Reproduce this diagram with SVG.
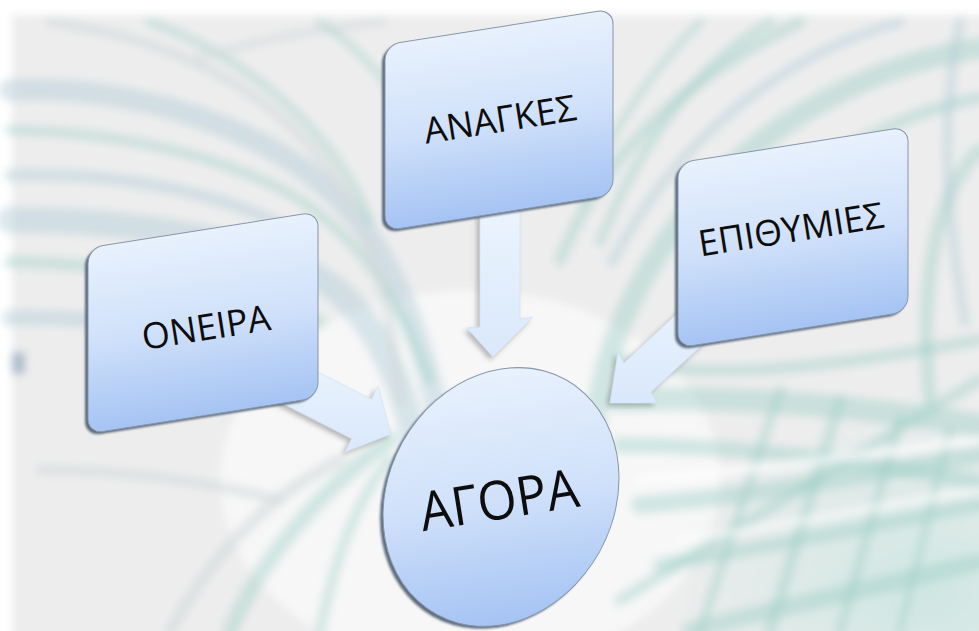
<svg xmlns="http://www.w3.org/2000/svg" width="979" height="631" viewBox="0 0 979 631">
<defs>
  <linearGradient id="gBox" x1="0" y1="0" x2="0" y2="1">
    <stop offset="0" stop-color="#e8f1fd"/>
    <stop offset="0.5" stop-color="#d0e1fa"/>
    <stop offset="1" stop-color="#a5c3f3"/>
  </linearGradient>
  <linearGradient id="gArrow" x1="0" y1="0" x2="0" y2="1">
    <stop offset="0" stop-color="#edf5fe"/>
    <stop offset="1" stop-color="#d9e8fb"/>
  </linearGradient>
  <radialGradient id="gTeal" cx="0.85" cy="0.85" r="0.6">
    <stop offset="0" stop-color="#cfe6e2"/>
    <stop offset="1" stop-color="#cfe6e2" stop-opacity="0"/>
  </radialGradient>
  <filter id="blurBg" x="-5%" y="-5%" width="110%" height="110%"><feGaussianBlur stdDeviation="4.5"/></filter>
  <filter id="edge" x="-10%" y="-10%" width="120%" height="120%"><feGaussianBlur stdDeviation="1.2"/></filter>
  <filter id="ashadow" x="-30%" y="-30%" width="160%" height="160%">
    <feDropShadow dx="-3" dy="3" stdDeviation="2.5" flood-color="#6a6a6a" flood-opacity="0.45"/>
  </filter>
  <style>
    .box { fill: url(#gBox); stroke: #8796a8; stroke-width: 1; }
    .back { fill: #5c6a7d; filter: url(#edge); }
    .lbl { font-family: "Open Sans", "Noto Sans", "DejaVu Sans", sans-serif; fill: #0d0d0d; text-anchor: middle; }
    .arrow { fill: url(#gArrow); stroke: #cfdff2; stroke-width: 0.6; filter: url(#ashadow); }
    .t1 { fill: none; stroke: #9fd0c8; stroke-linecap: round; opacity: 0.45; }
    .t2 { fill: none; stroke: #b0ccd6; stroke-linecap: round; opacity: 0.45; }
    .t3 { fill: none; stroke: #d2d8da; stroke-linecap: round; opacity: 0.6; }
    .hw { fill: none; stroke: #ffffff; stroke-linecap: round; opacity: 0.7; }
  </style>
</defs>

<!-- background photo -->
<rect width="979" height="631" fill="#ffffff"/>
<g filter="url(#blurBg)">
  <rect x="12" y="15" width="990" height="640" fill="#ededed"/>
  <ellipse cx="470" cy="480" rx="250" ry="190" fill="#f7f7f7"/>
  <rect x="560" y="330" width="430" height="310" fill="url(#gTeal)"/>
  <!-- left sweeping family -->
  <path class="t2" d="M10,90 C120,85 260,120 340,200 C390,250 420,330 440,420" stroke-width="22"/>
  <path class="t1" d="M10,130 C110,132 220,152 300,200 C360,240 400,300 430,380" stroke-width="10"/>
  <path class="t2" d="M10,175 C120,172 230,192 310,240" stroke-width="12"/>
  <path class="t2" d="M10,220 C130,220 260,238 330,285 C380,322 410,400 420,470" stroke-width="26"/>
  <path class="t1" d="M10,262 C120,264 240,282 320,322" stroke-width="12"/>
  <path class="t2" d="M10,318 C100,316 200,328 290,360" stroke-width="16"/>
  <path class="t3" d="M50,22 C200,42 300,112 350,202 C380,262 395,332 400,402" stroke-width="10"/>
  <path class="t1" d="M150,22 C260,62 340,142 370,222" stroke-width="9"/>
  <path class="t3" d="M200,57 C260,40 320,28 383,22" stroke-width="8"/>
  <path class="t1" d="M320,22 C380,62 420,122 440,192" stroke-width="8"/>
  <!-- lower left -->
  <path class="t1" d="M230,631 C260,560 320,490 390,440" stroke-width="16"/>
  <path class="t3" d="M170,631 C210,560 260,500 340,460" stroke-width="12"/>
  <path class="t1" d="M320,631 C335,560 355,500 390,460" stroke-width="10"/>
  <path class="t3" d="M40,470 C120,470 200,480 280,500" stroke-width="10"/>
  <!-- upper right arcs -->
  <path class="t1" d="M979,48 C830,72 700,162 632,300 C600,362 590,430 590,500" stroke-width="22"/>
  <path class="t1" d="M979,98 C850,122 742,212 682,322" stroke-width="12"/>
  <path class="t2" d="M900,22 C790,52 680,132 612,262" stroke-width="10"/>
  <path class="t1" d="M770,22 C700,62 640,142 600,242" stroke-width="10"/>
  <path class="t1" d="M700,22 C650,72 610,132 582,202" stroke-width="8"/>
  <path class="t1" d="M560,260 C600,160 680,80 800,22" stroke-width="12"/>
  <path class="t1" d="M979,150 C930,200 920,300 930,400" stroke-width="14"/>
  <path class="t2" d="M960,22 C940,122 945,202 965,322" stroke-width="10"/>
  <!-- lower right grid -->
  <path class="t1" d="M620,400 C720,395 850,405 979,425" stroke-width="24"/>
  <path class="t1" d="M620,445 C740,445 860,462 979,482" stroke-width="16"/>
  <path class="t1" d="M640,505 C760,495 870,475 979,455" stroke-width="18"/>
  <path class="t1" d="M660,565 C780,545 880,525 979,505" stroke-width="14"/>
  <path class="t1" d="M690,631 C800,602 900,582 979,562" stroke-width="18"/>
  <path class="t1" d="M700,631 L780,390" stroke-width="10"/>
  <path class="t1" d="M770,631 L840,400" stroke-width="12"/>
  <path class="t1" d="M840,631 L900,420" stroke-width="10"/>
  <path class="t1" d="M900,631 L950,430" stroke-width="8"/>
  <path class="t1" d="M620,600 L979,380" stroke-width="12"/>
  <path class="t1" d="M620,360 C700,380 820,370 979,340" stroke-width="12"/>
  <path class="hw" d="M640,480 C760,470 860,455 979,440" stroke-width="8"/>
  <path class="hw" d="M680,540 C790,525 880,505 979,490" stroke-width="6"/>
  <rect x="12" y="352" width="13" height="22" fill="#8ea7bf" opacity="0.7"/>
</g>

<!-- connectors -->
<g id="connectors">
  <polygon class="arrow" points="480,200 520,195 520,319 533,317 493,357 467,328 480,327"/>
  <polygon class="arrow" points="254,389 274,350 371.5,399.3 378,386 391,434 345,452 351.7,438.7"/>
  <polygon class="arrow" points="739,311 712,281 624,363 618,352 610,403 657,403 651,392"/>
</g>

<!-- nodes -->
<g id="node-anagkes">
  <g transform="translate(385,45) skewY(-9)">
    <rect class="back" x="-3" y="2" width="228" height="186" rx="15"/>
    <rect class="box" width="228" height="186" rx="15"/>
  </g>
  <text class="lbl" transform="translate(500,119) rotate(-9)" y="13" font-size="36">ΑΝΑΓΚΕΣ</text>
</g>

<g id="node-oneira">
  <g transform="translate(88,248) skewY(-9)">
    <rect class="back" x="-3" y="2" width="230" height="186" rx="15"/>
    <rect class="box" width="230" height="186" rx="15"/>
  </g>
  <text class="lbl" transform="translate(206,327) rotate(-9)" y="13" font-size="36">ΟΝΕΙΡΑ</text>
</g>

<g id="node-epithymies">
  <g transform="translate(678,163) skewY(-9)">
    <rect class="back" x="-3" y="2" width="230" height="185" rx="15"/>
    <rect class="box" width="230" height="185" rx="15"/>
  </g>
  <text class="lbl" transform="translate(791,229) rotate(-9)" y="13" font-size="36">ΕΠΙΘΥΜΙΕΣ</text>
</g>

<g id="node-agora">
  <g transform="translate(501,497) skewY(-9)">
    <ellipse class="back" cx="-3" cy="2" rx="118" ry="128"/>
    <ellipse class="box" cx="0" cy="0" rx="118" ry="128"/>
  </g>
  <text class="lbl" transform="translate(499,500) rotate(-9)" y="19" font-size="54" textLength="160" lengthAdjust="spacingAndGlyphs">ΑΓΟΡΑ</text>
</g>
</svg>
